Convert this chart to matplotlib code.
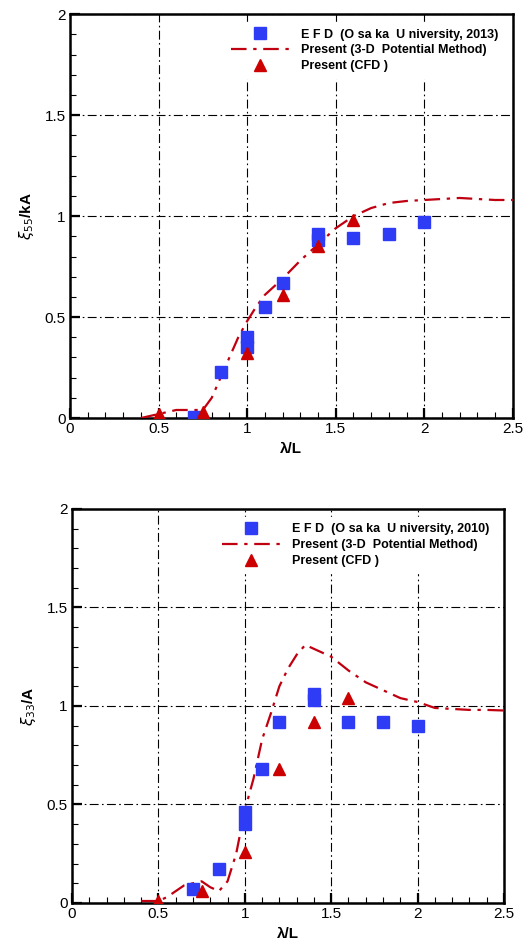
import matplotlib
matplotlib.use("Agg")
import matplotlib.pyplot as plt
from matplotlib.ticker import MultipleLocator

plt.rcParams['font.family'] = ['Liberation Sans', 'DejaVu Sans']

# ---- top panel data (xi55 / kA) ----
top_efd_x = [0.7, 0.85, 1.0, 1.0, 1.1, 1.2, 1.4, 1.4, 1.6, 1.8, 2.0]
top_efd_y = [0.005, 0.23, 0.40, 0.35, 0.55, 0.67, 0.91, 0.88, 0.89, 0.91, 0.97]
top_cfd_x = [0.5, 0.75, 1.0, 1.2, 1.4, 1.6]
top_cfd_y = [0.02, 0.03, 0.32, 0.61, 0.85, 0.98]
top_pot_x = [0.4, 0.45, 0.5, 0.55, 0.6, 0.65, 0.7, 0.75, 0.8, 0.85, 0.9, 0.95,
             1.0, 1.05, 1.1, 1.15, 1.2, 1.3, 1.4, 1.5, 1.6, 1.7, 1.8, 1.9,
             2.0, 2.1, 2.2, 2.3, 2.4, 2.5]
top_pot_y = [0.0, 0.01, 0.02, 0.03, 0.04, 0.04, 0.04, 0.04, 0.10, 0.20, 0.30, 0.40,
             0.48, 0.55, 0.61, 0.65, 0.69, 0.78, 0.86, 0.94, 1.0, 1.04, 1.065, 1.075,
             1.08, 1.085, 1.09, 1.085, 1.08, 1.08]

# ---- bottom panel data (xi33 / A) ----
bot_efd_x = [0.7, 0.85, 1.0, 1.0, 1.1, 1.2, 1.4, 1.4, 1.6, 1.8, 2.0]
bot_efd_y = [0.07, 0.17, 0.46, 0.40, 0.68, 0.92, 1.06, 1.03, 0.92, 0.92, 0.90]
bot_cfd_x = [0.5, 0.75, 1.0, 1.2, 1.4, 1.6]
bot_cfd_y = [0.01, 0.06, 0.26, 0.68, 0.92, 1.04]
bot_pot_x = [0.4, 0.45, 0.5, 0.55, 0.6, 0.65, 0.7, 0.75, 0.8, 0.85, 0.9, 0.95,
             1.0, 1.05, 1.1, 1.15, 1.2, 1.25, 1.3, 1.35, 1.4, 1.5, 1.6, 1.7,
             1.8, 1.9, 2.0, 2.1, 2.2, 2.3, 2.4, 2.5]
bot_pot_y = [0.01, 0.01, 0.01, 0.03, 0.06, 0.09, 0.10, 0.11, 0.08, 0.06, 0.11, 0.25,
             0.47, 0.63, 0.83, 0.96, 1.10, 1.19, 1.26, 1.31, 1.29, 1.25, 1.18, 1.12,
             1.08, 1.04, 1.02, 0.99, 0.985, 0.98, 0.98, 0.977]

x_ticks = [0, 0.5, 1, 1.5, 2, 2.5]
x_ticklabels = ['0', '0.5', '1', '1.5', '2', '2.5']
y_ticks = [0, 0.5, 1, 1.5, 2]
y_ticklabels = ['0', '0.5', '1', '1.5', '2']

panels = [
    dict(rect=[0.1318, 0.559, 0.834, 0.426], efd=(top_efd_x, top_efd_y),
         cfd=(top_cfd_x, top_cfd_y), pot=(top_pot_x, top_pot_y),
         ylabel=r'$\xi_{55}$' + '/kA', efd_label='E F D  (O sa ka  U niversity, 2013)'),
    dict(rect=[0.1356, 0.0475, 0.8136, 0.4156], efd=(bot_efd_x, bot_efd_y),
         cfd=(bot_cfd_x, bot_cfd_y), pot=(bot_pot_x, bot_pot_y),
         ylabel=r'$\xi_{33}$' + '/A', efd_label='E F D  (O sa ka  U niversity, 2010)'),
]

fig = plt.figure(figsize=(5.31, 9.48), dpi=100)
blue = '#2e3cf5'
red = '#cc0000'
for p in panels:
    ax = fig.add_axes(p['rect'])
    ax.set_xlim(0, 2.5)
    ax.set_ylim(0, 2)
    ln, = ax.plot(p['pot'][0], p['pot'][1], color='#c00010', lw=1.6,
                  linestyle=(0, (7, 3, 1.5, 3)), zorder=3,
                  label='Present (3-D  Potential Method)')
    sq, = ax.plot(p['efd'][0], p['efd'][1], 's', color=blue, ms=8, zorder=4,
                  linestyle='none', label=p['efd_label'])
    tr, = ax.plot(p['cfd'][0], p['cfd'][1], '^', color=red, ms=8.5, zorder=5,
                  linestyle='none', label='Present (CFD )')
    ax.set_xticks(x_ticks)
    ax.set_xticklabels(x_ticklabels)
    ax.set_yticks(y_ticks)
    ax.set_yticklabels(y_ticklabels)
    ax.xaxis.set_minor_locator(MultipleLocator(0.1))
    ax.yaxis.set_minor_locator(MultipleLocator(0.1))
    ax.tick_params(which='major', direction='in', length=7, width=1.6,
                   labelsize=11, top=False, right=False, pad=3)
    ax.tick_params(which='minor', direction='in', length=4, width=0.8,
                   top=False, right=False)
    for s in ax.spines.values():
        s.set_linewidth(1.8)
    ax.grid(True, which='major', color='black', lw=0.8,
            linestyle=(0, (8, 3, 1.5, 3)), zorder=1)
    ax.set_axisbelow(True)
    ax.set_xlabel('λ/L', fontsize=11, fontweight='bold', labelpad=4)
    ax.set_ylabel(p['ylabel'], fontsize=11, fontweight='bold', labelpad=6)
    leg = ax.legend(handles=[sq, ln, tr], loc='upper right',
                    bbox_to_anchor=(0.995, 0.995), frameon=True, fancybox=False,
                    framealpha=1.0, facecolor='white', edgecolor='white',
                    prop=dict(size=9, weight='bold'), handlelength=4.7,
                    handletextpad=0.9, labelspacing=0.3, borderpad=0.5,
                    numpoints=1)
    leg.set_zorder(6)

fig.savefig('out.png', dpi=100)
